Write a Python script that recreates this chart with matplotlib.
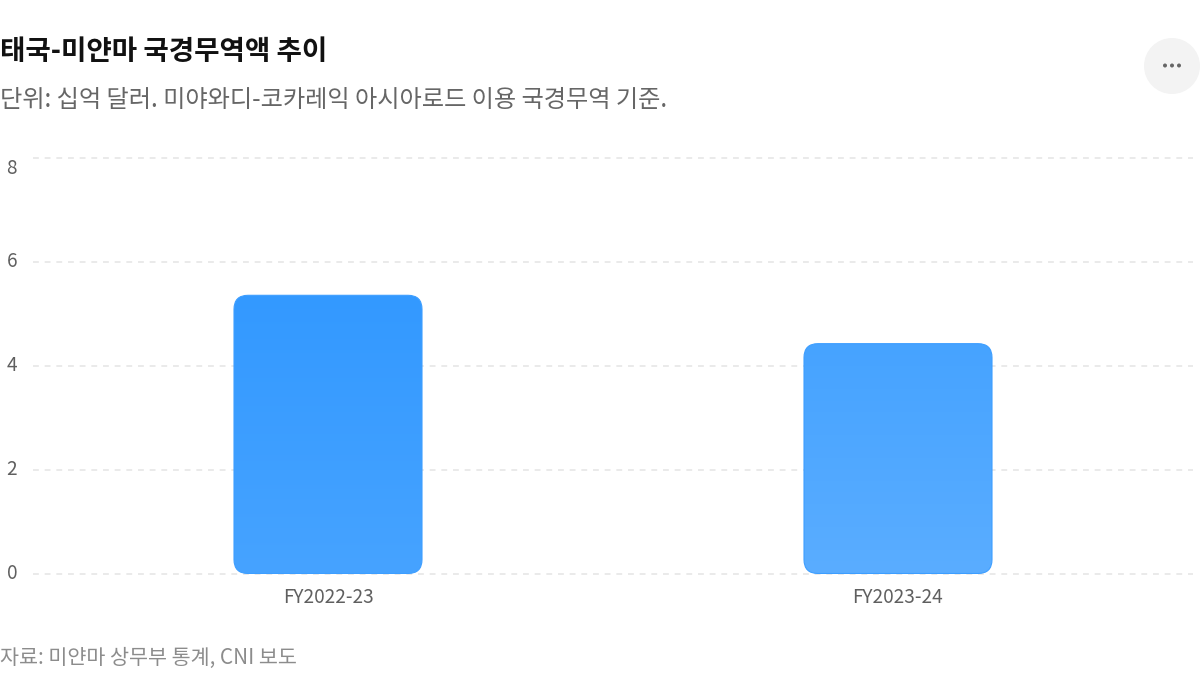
import numpy as np
import matplotlib
matplotlib.use("Agg")
import matplotlib.pyplot as plt
from matplotlib.patches import FancyBboxPatch, Circle
from matplotlib.colors import LinearSegmentedColormap
from matplotlib.transforms import IdentityTransform

plt.rcParams['font.family'] = ['Noto Sans CJK KR', 'DejaVu Sans']

categories = ["FY2022-23", "FY2023-24"]
values = [5.35, 4.42]
y_ticks = [0, 2, 4, 6, 8]
title = "태국-미얀마 국경무역액 추이"
subtitle = "단위: 십억 달러. 미야와디-코카레익 아시아로드 이용 국경무역 기준."
source = "자료: 미얀마 상무부 통계, CNI 보도"

W, H = 1200, 675
fig = plt.figure(figsize=(W / 100, H / 100), dpi=100, facecolor="white")

L, R, T, B = 33, 1193, 157.5, 573.5
ax = fig.add_axes([L / W, 1 - B / H, (R - L) / W, (B - T) / H])
ax.set_facecolor("none")
band = 570
pad = (R - L - band) / 2 / band
ax.set_xlim(-pad, 1 + pad)
ax.set_ylim(0, 8)
for s in ax.spines.values():
    s.set_visible(False)

ax.set_yticks(y_ticks)
ax.set_xticks(range(len(categories)))
ax.set_xticklabels(categories)
ax.set_yticklabels([str(v) for v in y_ticks])
ax.tick_params(axis="both", length=0, labelcolor="#5f5f5f", labelsize=13.7)
ax.tick_params(axis="x", pad=10)
ax.tick_params(axis="y", pad=11.5)
ax.get_yticklabels()[-1].set_verticalalignment("top")
for lab in ax.get_yticklabels()[:-1]:
    lab.set_verticalalignment("center")
ax.grid(axis="y", color="#e6e6e6", lw=1.2, ls=(0, (3.5, 3.5)), clip_on=False)
ax.set_axisbelow(True)

bar_w = 188 / band
radius = 14 / band
aspect = (8 / (B - T)) / (1 / band)
cmaps = [
    LinearSegmentedColormap.from_list("a", ["#46A3FF", "#3399FF"]),
    LinearSegmentedColormap.from_list("b", ["#5AADFF", "#46A3FF"]),
]
for i, v in enumerate(values):
    patch = FancyBboxPatch(
        (i - bar_w / 2, 0), bar_w, v,
        boxstyle=f"round,pad=0,rounding_size={radius}",
        mutation_aspect=aspect, fc="none", ec="#3d9eff", lw=0.8, zorder=4,
    )
    ax.add_patch(patch)
    grad = np.linspace(0, 1, 256).reshape(-1, 1)
    im = ax.imshow(grad, extent=(i - bar_w / 2, i + bar_w / 2, 0, v), origin="lower",
                   aspect="auto", cmap=cmaps[i], zorder=3)
    im.set_clip_path(patch)
ax.set_xlim(-pad, 1 + pad)
ax.set_ylim(0, 8)

fig.text(0 / W, 1 - 52 / H, title, fontsize=19.9, fontweight="bold", color="#111111", va="center", ha="left")
fig.text(0 / W, 1 - 100 / H, subtitle, fontsize=17.45, color="#666666", va="center", ha="left")
fig.text(0 / W, 1 - 658 / H, source, fontsize=14.9, color="#8c8c8c", va="center", ha="left")

# menu button (pixel coordinates measured from the top-left)
def px(x, y):
    return (x, H - y)
fig.add_artist(Circle(px(1172, 66), 28, fc="#f3f3f3", ec="none", transform=IdentityTransform()))
for dx in (-7, 0, 7):
    fig.add_artist(Circle(px(1172 + dx, 65.5), 2, fc="#666666", ec="none", transform=IdentityTransform()))

fig.savefig("out.png", dpi=100, facecolor="white")
